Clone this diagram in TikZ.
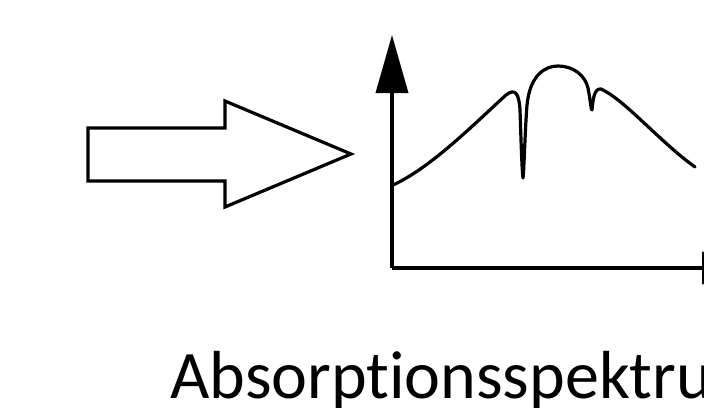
\documentclass[tikz,border=0pt]{standalone}
\usepackage{fontspec}
\setmainfont{Carlito}[Ligatures=NoCommon]
\usetikzlibrary{arrows.meta}
\begin{document}
\begin{tikzpicture}[x=1pt,y=-1pt,
  outline/.style={line width=3.2pt,line join=miter},
  axis/.style={line width=3.6pt},
  spectrum/.style={line width=3.2pt,line cap=round,line join=round}]
\useasboundingbox (0,0) rectangle (704,407);
% block arrow
\draw[outline] (88,128) -- (225,128) -- (225,101) -- (351,154) -- (225,207)
  -- (225,181) -- (88,181) -- cycle;
% axes
\coordinate (o) at (392,268);
\coordinate (ytop) at (392,35);
\coordinate (xend) at (760,268);
\draw[axis,-{Triangle[length=58pt,width=32pt]}] (o) -- (ytop);
\draw[axis,-{Triangle[length=58pt,width=32pt]}] (o) -- (xend);
% spectrum curve with two absorption lines
\draw[spectrum] (393,185)
  .. controls (430,168) and (470,128) .. (506,95)
  .. controls (515,88) and (519,93) .. (520,110)
  .. controls (521,140) and (522,172) .. (523,178)
  .. controls (524,172) and (525,130) .. (527,105)
  .. controls (530,75) and (545,66) .. (558,66)
  .. controls (573,66) and (585,75) .. (588,88)
  .. controls (590,98) and (591,110) .. (592,110)
  .. controls (593,100) and (594,88) .. (601,89)
  .. controls (625,100) and (660,142) .. (695,167);
% caption (kern keeps t and i as separate glyphs)
\node[anchor=base west,inner sep=0pt,font=\fontsize{68}{80}\selectfont] (cap) at (170,398) {Absorpt\kern0pt ionsspektrum};
\end{tikzpicture}
\end{document}
